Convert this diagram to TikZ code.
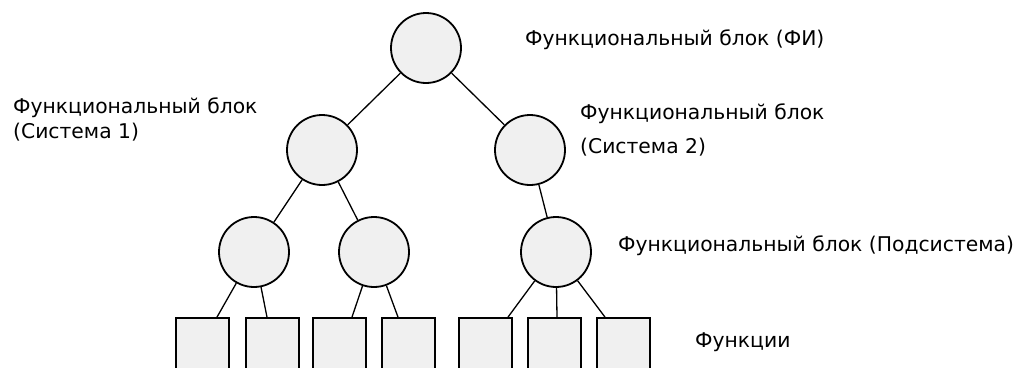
\documentclass[tikz,border=0pt]{standalone}
\usepackage{fontspec}
\setmainfont{DejaVu Sans}
\begin{document}
\begin{tikzpicture}[x=1pt,y=-1pt,
  blk/.style={circle,draw=black,line width=1.8pt,fill=black!6,minimum size=70pt,inner sep=0pt},
  fn/.style={rectangle,draw=black,line width=1.8pt,fill=black!6,minimum width=53pt,minimum height=80pt,inner sep=0pt},
  lnk/.style={draw=black,line width=1.3pt},
  lbl/.style={anchor=west,inner sep=0pt,font=\fontsize{20.3}{25}\selectfont,align=left}]
\useasboundingbox (0,0) rectangle (1035,367);
\clip (0,0) rectangle (1035,367);
\fill[white] (0,0) rectangle (1035,367);
% circles
\node[blk] (A) at (426,48) {};
\node[blk] (B) at (322,150) {};
\node[blk] (C) at (530,150) {};
\node[blk] (D) at (254,252) {};
\node[blk] (E) at (374,252) {};
\node[blk] (F) at (556,252) {};
% boxes
\node[fn] (b1) at (202.5,358) {};
\node[fn] (b2) at (272.5,358) {};
\node[fn] (b3) at (339.5,358) {};
\node[fn] (b4) at (408.5,358) {};
\node[fn] (b5) at (485.5,358) {};
\node[fn] (b6) at (554.5,358) {};
\node[fn] (b7) at (623.5,358) {};
% connectors
\draw[lnk] (A) -- (B);
\draw[lnk] (A) -- (C);
\draw[lnk] (B) -- (D);
\draw[lnk] (B) -- (E);
\draw[lnk] (C) -- (F);
\draw[lnk] (D) -- ([xshift=14.5pt]b1.north);
\draw[lnk] (D) -- ([xshift=-5.5pt]b2.north);
\draw[lnk] (E) -- ([xshift=12.5pt]b3.north);
\draw[lnk] (E) -- ([xshift=-10.5pt]b4.north);
\draw[lnk] (F) -- ([xshift=22.5pt]b5.north);
\draw[lnk] (F) -- ([xshift=2.5pt]b6.north);
\draw[lnk] (F) -- ([xshift=-18.5pt]b7.north);
% labels
\node[lbl] (tA) at (525,40) {Функциональный блок (ФИ)};
\node[lbl] (tB) at (13,119) {Функциональный блок\\(Система 1)};
\node[lbl,font=\fontsize{20.3}{34}\selectfont] (tC) at (580,130) {Функциональный блок\\(Система 2)};
\node[lbl] (tF) at (618,246) {Функциональный блок (Подсистема)};
\node[lbl] (tb) at (695,342) {Функции};
\end{tikzpicture}
\end{document}
